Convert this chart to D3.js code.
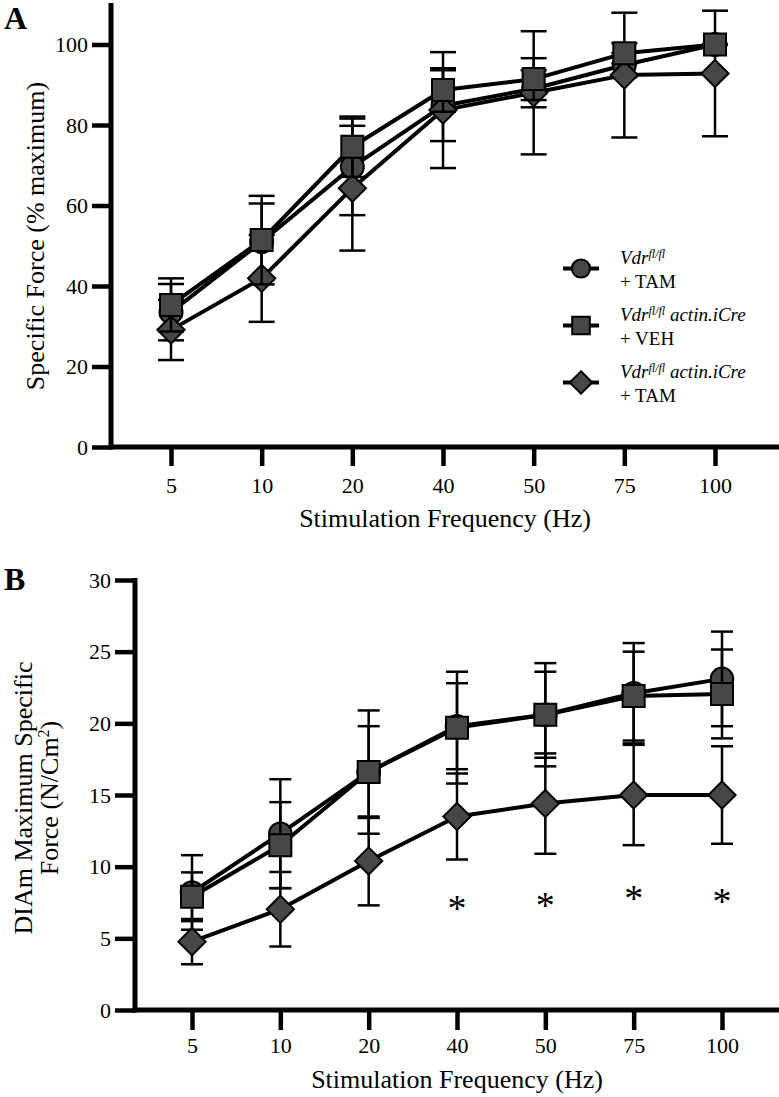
<!DOCTYPE html>
<html>
<head>
<meta charset="utf-8">
<title>Specific force vs stimulation frequency</title>
<style>
    body { margin: 0; background: white; }
    text { font-family: "Liberation Serif", "Times New Roman", serif; fill: black; }
</style>
</head>
<body>
<div id="chart"></div>
<script src="https://cdn.jsdelivr.net/npm/d3@7"></script>
<script>
    // stimulation frequencies (Hz), shown as categories
    let freqs = ["5", "10", "20", "40", "50", "75", "100"]

    // panel A: specific force, % of maximum (mean and error)
    let tamA = [33.5, 51, 69.6, 84.8, 89, 94.9, 100]
    let tamAErr = [7, 9.5, 12, 8.8, 4.6, 3, 0]
    let vehA = [35.3, 51.4, 74.6, 88.7, 91.4, 97.8, 100]
    let vehAErr = [6.6, 11, 7.5, 5.4, 5.2, 2.5, 0]
    let creA = [29.1, 41.9, 64.3, 83.7, 88, 92.4, 92.8]
    let creAErr = [7.5, 10.8, 15.5, 14.4, 15.3, 15.5, 15.6]

    // panel B: DIAm maximum specific force, N/cm2
    let tamB = [8.2, 12.3, 16.6, 19.8, 20.6, 22.1, 23.1]
    let tamBErr = [2.6, 3.8, 3.2, 3.0, 3.0, 3.5, 3.3]
    let vehB = [7.9, 11.5, 16.6, 19.7, 20.6, 21.9, 22.05]
    let vehBErr = [1.7, 3.0, 4.3, 3.9, 3.6, 3.1, 3.1]
    let creB = [4.77, 7.03, 10.4, 13.5, 14.4, 15.0, 15.0]
    let creBErr = [1.58, 2.6, 3.1, 3.0, 3.5, 3.5, 3.4]

    // significance stars on panel B (frequency, height in N/cm2)
    let starFreqs = ["40", "50", "75", "100"]
    let starLevels = [7.4, 7.6, 8.1, 7.9]

    let ticksA = [0, 20, 40, 60, 80, 100]
    let ticksB = [0, 5, 10, 15, 20, 25, 30]

    let width = 779, height = 1097

    let svg = d3.select("#chart")
        .append("svg")
        .attr("width", width)
        .attr("height", height)

    // square turned 45 degrees (equal width and height)
    let diamond = {
        draw: function(ctx, size){
            let r = Math.sqrt(size / 2)
            ctx.moveTo(0, -r)
            ctx.lineTo(r, 0)
            ctx.lineTo(0, r)
            ctx.lineTo(-r, 0)
            ctx.closePath()
        }
    }

    function drawPanel(opt){
        let g = svg.append("g")
        let x = d3.scalePoint().domain(freqs).range(opt.xRange)
        let y = d3.scaleLinear().domain(opt.yDomain).range(opt.yRange)

        // axes
        let yAxis = g.append("g")
            .attr("transform", "translate(" + opt.axisX + ",0)")
            .call(d3.axisLeft(y).tickValues(opt.ticks).tickSize(opt.tickLen).tickSizeOuter(0))
        yAxis.select(".domain").remove()
        yAxis.selectAll("line").attr("stroke-width", 4.5)
        yAxis.selectAll("text")
            .attr("font-size", 22)
            .attr("x", -opt.tickLen - 4)

        let xAxis = g.append("g")
            .attr("transform", "translate(0," + opt.axisY + ")")
            .call(d3.axisBottom(x).tickSize(opt.tickLen).tickSizeOuter(0))
        xAxis.select(".domain").remove()
        xAxis.selectAll("line").attr("stroke-width", 4.5)
        xAxis.selectAll("text")
            .attr("font-size", 22)
            .attr("dy", null)
            .attr("y", opt.xLabelOffset)

        g.append("line")
            .attr("x1", opt.axisX).attr("x2", opt.axisX)
            .attr("y1", opt.axisTop).attr("y2", opt.axisY + 2.5)
            .attr("stroke", "black").attr("stroke-width", 5)
        g.append("line")
            .attr("x1", opt.axisX - 2.5).attr("x2", width)
            .attr("y1", opt.axisY).attr("y2", opt.axisY)
            .attr("stroke", "black").attr("stroke-width", 5)

        // series: error bars, line, markers
        let line = d3.line()
            .x(function(d, i){ return x(freqs[i]) })
            .y(function(d){ return y(d) })

        opt.series.forEach(function(s){
            let sg = g.append("g")
            let bars = sg.selectAll(".err")
                .data(s.values)
                .enter()
                .append("g")
                .attr("stroke", "black")
                .attr("stroke-width", 2.5)
            bars.append("line")
                .attr("x1", function(d, i){ return x(freqs[i]) })
                .attr("x2", function(d, i){ return x(freqs[i]) })
                .attr("y1", function(d, i){ return y(d + s.err[i]) })
                .attr("y2", function(d, i){ return y(d - s.err[i]) })
            bars.append("line")
                .attr("x1", function(d, i){ return x(freqs[i]) - opt.capHalf })
                .attr("x2", function(d, i){ return x(freqs[i]) + opt.capHalf })
                .attr("y1", function(d, i){ return y(d + s.err[i]) })
                .attr("y2", function(d, i){ return y(d + s.err[i]) })
            bars.append("line")
                .attr("x1", function(d, i){ return x(freqs[i]) - opt.capHalf })
                .attr("x2", function(d, i){ return x(freqs[i]) + opt.capHalf })
                .attr("y1", function(d, i){ return y(d - s.err[i]) })
                .attr("y2", function(d, i){ return y(d - s.err[i]) })

            sg.append("path")
                .attr("d", line(s.values))
                .attr("fill", "none")
                .attr("stroke", "black")
                .attr("stroke-width", 4)
                .attr("stroke-linejoin", "round")

            sg.selectAll(".mark")
                .data(s.values)
                .enter()
                .append("path")
                .attr("transform", function(d, i){ return "translate(" + x(freqs[i]) + "," + y(d) + ")" })
                .attr("d", d3.symbol().type(s.symbol).size(s.size))
                .attr("fill", "#474747")
                .attr("stroke", "black")
                .attr("stroke-width", 2)
        })

        // axis titles
        g.append("text")
            .attr("x", (opt.axisX + width) / 2)
            .attr("y", opt.xTitleY)
            .attr("text-anchor", "middle")
            .attr("font-size", 26)
            .text("Stimulation Frequency (Hz)")

        g.append("text")
            .attr("x", 4)
            .attr("y", opt.letterY)
            .attr("font-size", 32)
            .attr("font-weight", "bold")
            .text(opt.letter)

        return {g: g, x: x, y: y}
    }

    let symbolsA = [
        {symbol: d3.symbolCircle, size: 415},
        {symbol: diamond, size: 370},
        {symbol: d3.symbolSquare, size: 484}
    ]

    let panelA = drawPanel({
        xRange: [171, 715],
        yDomain: [0, 110],
        yRange: [447, 4.25],
        axisX: 111, axisY: 447, axisTop: 3,
        ticks: ticksA, tickLen: 19,
        xLabelOffset: 46, xTitleY: 527,
        capHalf: 13,
        letter: "A", letterY: 29,
        series: [
            {values: tamA, err: tamAErr, symbol: d3.symbolCircle, size: 415},
            {values: creA, err: creAErr, symbol: diamond, size: 370},
            {values: vehA, err: vehAErr, symbol: d3.symbolSquare, size: 484}
        ]
    })

    panelA.g.append("text")
        .attr("transform", "translate(44,236) rotate(-90)")
        .attr("text-anchor", "middle")
        .attr("font-size", 26)
        .text("Specific Force (% maximum)")

    let panelB = drawPanel({
        xRange: [192, 722],
        yDomain: [0, 30],
        yRange: [1010, 580],
        axisX: 135, axisY: 1010, axisTop: 578,
        ticks: ticksB, tickLen: 20,
        xLabelOffset: 43, xTitleY: 1088,
        capHalf: 11,
        letter: "B", letterY: 590,
        series: [
            {values: tamB, err: tamBErr, symbol: d3.symbolCircle, size: 400},
            {values: creB, err: creBErr, symbol: diamond, size: 370},
            {values: vehB, err: vehBErr, symbol: d3.symbolSquare, size: 484}
        ]
    })

    let titleB = panelB.g.append("text")
        .attr("transform", "translate(0,798) rotate(-90)")
        .attr("text-anchor", "middle")
        .attr("font-size", 26)
    titleB.append("tspan").attr("x", 0).attr("y", 32).text("DIAm Maximum Specific")
    let l2 = titleB.append("tspan").attr("x", 0).attr("y", 58)
    l2.append("tspan").text("Force (N/Cm")
    l2.append("tspan").attr("font-size", 16).attr("dy", -9).text("2")
    l2.append("tspan").attr("dy", 9).text(")")

    panelB.g.selectAll(".star")
        .data(starFreqs)
        .enter()
        .append("text")
        .attr("x", function(d){ return panelB.x(d) })
        .attr("y", function(d, i){ return panelB.y(starLevels[i]) + 17 })
        .attr("text-anchor", "middle")
        .attr("font-size", 38)
        .text("*")

    // legend for panel A
    let legendNames = ["Vdr", "Vdr", "Vdr"]
    let legendSub = ["", " actin.iCre", " actin.iCre"]
    let legendTreat = ["+ TAM", "+ VEH", "+ TAM"]
    let legendSymbols = [d3.symbolCircle, d3.symbolSquare, diamond]
    let legendSizes = [260, 310, 250]

    let legend = svg.append("g")
        .attr("transform", "translate(581,264)")

    let items = legend.selectAll(".item")
        .data(legendNames)
        .enter()
        .append("g")
        .attr("transform", function(d, i){ return "translate(0," + (i * 57) + ")" })

    items.append("line")
        .attr("x1", -18).attr("x2", 18)
        .attr("y1", 4.5).attr("y2", 4.5)
        .attr("stroke", "black").attr("stroke-width", 4)

    items.append("path")
        .attr("transform", "translate(0,4.5)")
        .attr("d", function(d, i){ return d3.symbol().type(legendSymbols[i]).size(legendSizes[i])() })
        .attr("fill", "#474747")
        .attr("stroke", "black")
        .attr("stroke-width", 2)

    let t1 = items.append("text")
        .attr("x", 39)
        .attr("y", 0)
        .attr("font-size", 19)
        .attr("font-style", "italic")
    t1.append("tspan").text(function(d){ return d })
    t1.append("tspan").attr("font-size", 12).attr("dy", -6).text("fl/fl")
    t1.append("tspan").attr("dy", 6).text(function(d, i){ return legendSub[i] })

    items.append("text")
        .attr("x", 39)
        .attr("y", 24)
        .attr("font-size", 19)
        .text(function(d, i){ return legendTreat[i] })
</script>
</body>
</html>
